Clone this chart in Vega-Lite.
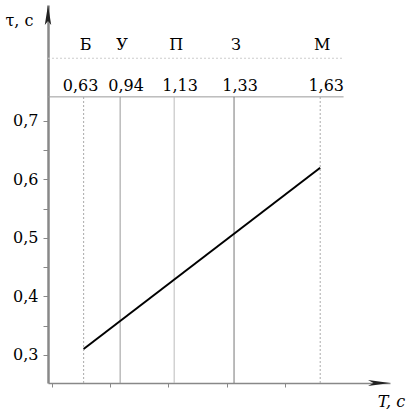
{
  "$schema": "https://vega.github.io/schema/vega-lite/v6.json",
  "autosize": "none",
  "width": 342,
  "height": 378,
  "padding": {"left": 48, "top": 5, "right": 22, "bottom": 31},
  "background": "white",
  "config": {
    "view": {"stroke": null},
    "font": "DejaVu Serif",
    "text": {"font": "DejaVu Serif", "fontSize": 16}
  },
  "datasets": {
    "vessels": [
      {"T": 0.81, "name": "Б", "val": "0,63"},
      {"T": 0.935, "name": "У", "val": "0,94"},
      {"T": 1.12, "name": "П", "val": "1,13"},
      {"T": 1.325, "name": "З", "val": "1,33"},
      {"T": 1.62, "name": "М", "val": "1,63"}
    ],
    "curve": [
      {"T": 0.81, "tau": 0.31},
      {"T": 1.62, "tau": 0.62}
    ],
    "header": [
      {"kind": "solid", "tau": 0.741, "Tstart": 0.688, "Tend": 1.70},
      {"kind": "dotted", "tau": 0.807, "Tstart": 0.688, "Tend": 1.70}
    ]
  },
  "layer": [
    {
      "data": {"name": "header"},
      "mark": {"type": "rule", "strokeWidth": 1},
      "encoding": {
        "x": {"field": "Tstart", "type": "quantitative", "scale": {"domain": [0.688, 1.859], "nice": false, "zero": false},
          "axis": {
            "values": [0.7, 0.8, 0.9, 1.0, 1.1, 1.2, 1.3, 1.4, 1.5, 1.6],
            "labelExpr": "round(datum.value*10) % 2 == 0 ? replace(format(datum.value, '.1f'), '.', ',') : ''",
            "labelFont": "DejaVu Serif", "labelFontSize": 16, "labelColor": "black",
            "labelPadding": 6,
            "domainColor": "#888", "domainWidth": 1.5,
            "tickColor": "#888",
            "tickSize": {"condition": {"test": "round(datum.value*10) % 2 == 0", "value": 5}, "value": 4},
            "grid": false,
            "title": "T, c",
            "titleFont": "DejaVu Serif", "titleFontSize": 16, "titleFontWeight": "normal", "titleFontStyle": "italic",
            "titleColor": "black",
            "titleX": 343, "titleY": 23, "titleAlign": "center", "titleBaseline": "alphabetic"
          }},
        "x2": {"field": "Tend"},
        "y": {"field": "tau", "type": "quantitative", "scale": {"domain": [0.252, 0.898], "nice": false, "zero": false},
          "axis": {
            "values": [0.3, 0.35, 0.4, 0.45, 0.5, 0.55, 0.6, 0.65, 0.7],
            "labelExpr": "abs(datum.value*10 - round(datum.value*10)) < 0.01 ? replace(format(datum.value, '.1f'), '.', ',') : ''",
            "labelFont": "DejaVu Serif", "labelFontSize": 16, "labelColor": "black",
            "labelPadding": 5,
            "domainColor": "#888", "domainWidth": 2.5,
            "tickColor": "#888",
            "tickSize": 5,
            "grid": false,
            "title": "τ, c",
            "titleFont": "DejaVu Serif", "titleFontSize": 16, "titleFontWeight": "normal",
            "titleColor": "black", "titleAngle": 0,
            "titleX": -29, "titleY": 15, "titleAlign": "center", "titleBaseline": "middle"
          }},
        "color": {"condition": {"test": "datum.kind == 'solid'", "value": "#999"}, "value": "#ccc"},
        "strokeDash": {"condition": {"test": "datum.kind == 'solid'", "value": [1, 0]}, "value": [2, 2]}
      }
    },
    {
      "data": {"name": "vessels"},
      "mark": {"type": "rule", "strokeWidth": 1},
      "encoding": {
        "x": {"field": "T", "type": "quantitative"},
        "y": {"datum": 0.252},
        "y2": {"datum": 0.741},
        "color": {
          "condition": [
            {"test": "datum.name == 'З'", "value": "#777"},
            {"test": "datum.name == 'У'", "value": "#999"},
            {"test": "datum.name == 'П'", "value": "#bbb"}
          ],
          "value": "#aaa"
        },
        "strokeDash": {"condition": {"test": "datum.name == 'Б' || datum.name == 'М'", "value": [2, 2]}, "value": [1, 0]}
      }
    },
    {
      "data": {"name": "vessels"},
      "mark": {"type": "text", "baseline": "middle", "align": "center", "color": "black", "dx": 2},
      "encoding": {
        "x": {"field": "T", "type": "quantitative"},
        "y": {"datum": 0.829},
        "text": {"field": "name"}
      }
    },
    {
      "data": {"name": "vessels"},
      "transform": [{"filter": "datum.name == 'Б'"}],
      "mark": {"type": "text", "baseline": "middle", "align": "center", "color": "black", "dx": -3},
      "encoding": {
        "x": {"field": "T", "type": "quantitative"},
        "y": {"datum": 0.759},
        "text": {"field": "val"}
      }
    },
    {
      "data": {"name": "vessels"},
      "transform": [{"filter": "datum.name != 'Б'"}],
      "mark": {"type": "text", "baseline": "middle", "align": "center", "color": "black", "dx": 6},
      "encoding": {
        "x": {"field": "T", "type": "quantitative"},
        "y": {"datum": 0.759},
        "text": {"field": "val"}
      }
    },
    {
      "data": {"name": "curve"},
      "mark": {"type": "line", "color": "black", "strokeWidth": 2},
      "encoding": {
        "x": {"field": "T", "type": "quantitative"},
        "y": {"field": "tau", "type": "quantitative"}
      }
    },
    {
      "data": {"values": [{"axis": "x"}]},
      "mark": {"type": "point", "filled": true, "color": "#222", "opacity": 1, "size": 484,
        "shape": "M 0 0 L -2 -0.28 L -1.5 0 L -2 0.28 Z"},
      "encoding": {
        "x": {"datum": 1.859},
        "y": {"datum": 0.252}
      }
    },
    {
      "data": {"values": [{"axis": "y"}]},
      "mark": {"type": "point", "filled": true, "color": "#222", "opacity": 1, "size": 400,
        "shape": "M 0 0 L -0.32 2 L 0 1.6 L 0.32 2 Z"},
      "encoding": {
        "x": {"datum": 0.688},
        "y": {"datum": 0.898}
      }
    }
  ]
}
